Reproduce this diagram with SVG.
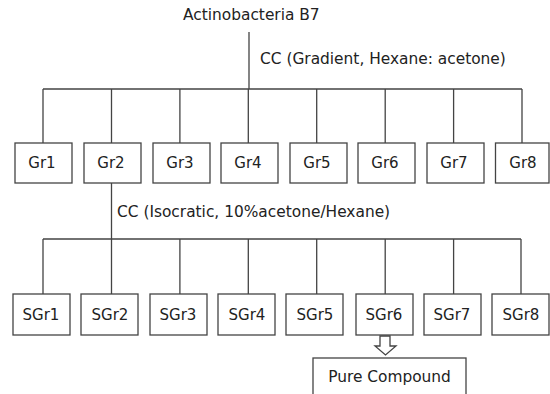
<svg xmlns="http://www.w3.org/2000/svg" width="550" height="394" viewBox="0 0 550 394">
<style>
text{font-family:"DejaVu Sans","Liberation Sans",sans-serif;font-size:15px;fill:#222}
.l{font-size:15.4px}
.c{text-anchor:middle}
.box{fill:#fff;stroke:#444;stroke-width:1.3}
.ln{fill:none;stroke:#444;stroke-width:1.3}
</style>
<rect width="550" height="394" fill="#fff"/>
<g id="connectors">
<path class="ln" d="M249 32V89M43 89H522M43 89V143M111.5 89V143M179.9 89V143M248.3 89V143M316.7 89V143M385.2 89V143M453.6 89V143M522 89V143"/>
<path class="ln" d="M111.5 183V239M43 239H521M43 239V294M111.5 239V294M179.9 239V294M248.3 239V294M316.7 239V294M385.2 239V294M453.6 239V294M521 239V294"/>
<polygon class="box" points="380,336 390,336 390,346 396,346 385.5,355 375,346 380,346"/>
<text class="l" x="260" y="64">CC (Gradient, Hexane: acetone)</text>
<text class="l" x="117" y="217">CC (Isocratic, 10%acetone/Hexane)</text>
</g>
<g id="root"><text class="l" x="183" y="20">Actinobacteria B7</text></g>
<g id="Gr1"><rect class="box" x="15" y="143" width="57" height="40"/><text x="42" y="168" class="c">Gr1</text></g>
<g id="Gr2"><rect class="box" x="84" y="143" width="57" height="40"/><text x="111" y="168" class="c">Gr2</text></g>
<g id="Gr3"><rect class="box" x="153" y="143" width="57" height="40"/><text x="180" y="168" class="c">Gr3</text></g>
<g id="Gr4"><rect class="box" x="221" y="143" width="57" height="40"/><text x="248" y="168" class="c">Gr4</text></g>
<g id="Gr5"><rect class="box" x="290" y="143" width="57" height="40"/><text x="317" y="168" class="c">Gr5</text></g>
<g id="Gr6"><rect class="box" x="358" y="143" width="57" height="40"/><text x="385" y="168" class="c">Gr6</text></g>
<g id="Gr7"><rect class="box" x="427" y="143" width="57" height="40"/><text x="454" y="168" class="c">Gr7</text></g>
<g id="Gr8"><rect class="box" x="495.5" y="143" width="53.5" height="40"/><text x="523" y="168" class="c">Gr8</text></g>
<g id="SGr1"><rect class="box" x="13" y="294" width="57" height="41"/><text x="41" y="320" class="c">SGr1</text></g>
<g id="SGr2"><rect class="box" x="81" y="294" width="57" height="41"/><text x="110" y="320" class="c">SGr2</text></g>
<g id="SGr3"><rect class="box" x="150" y="294" width="57" height="41"/><text x="178" y="320" class="c">SGr3</text></g>
<g id="SGr4"><rect class="box" x="218" y="294" width="57" height="41"/><text x="247" y="320" class="c">SGr4</text></g>
<g id="SGr5"><rect class="box" x="286" y="294" width="57" height="41"/><text x="315" y="320" class="c">SGr5</text></g>
<g id="SGr6"><rect class="box" x="356" y="294" width="57" height="41"/><text x="384" y="320" class="c">SGr6</text></g>
<g id="SGr7"><rect class="box" x="424" y="294" width="57" height="41"/><text x="452" y="320" class="c">SGr7</text></g>
<g id="SGr8"><rect class="box" x="492" y="294" width="57" height="41"/><text x="521" y="320" class="c">SGr8</text></g>
<g id="pure"><rect class="box" x="313" y="358" width="153" height="40"/><text class="l" x="389.5" y="382" text-anchor="middle">Pure Compound</text></g>
</svg>
